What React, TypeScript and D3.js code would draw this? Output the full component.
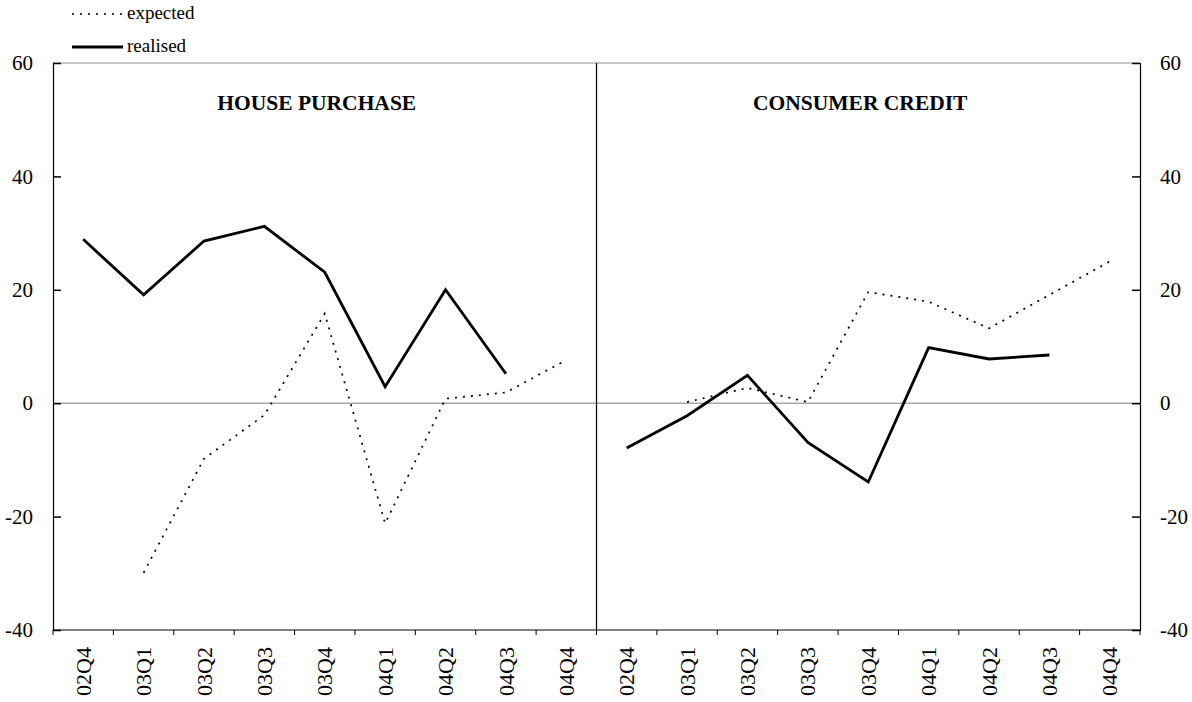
import React, { useEffect, useRef } from 'react'
import * as d3 from 'd3'

const quarters = ['02Q4', '03Q1', '03Q2', '03Q3', '03Q4', '04Q1', '04Q2', '04Q3', '04Q4']
const panelTitles = ['HOUSE PURCHASE', 'CONSUMER CREDIT']

const houseRealised = [28.9, 19.1, 28.6, 31.2, 23.1, 2.9, 20.0, 5.2, null]
const houseExpected = [null, -29.9, -9.8, -2.1, 15.8, -21.2, 0.8, 1.9, 7.6]
const creditRealised = [-7.9, -2.2, 4.9, -6.9, -13.9, 9.8, 7.8, 8.5, null]
const creditExpected = [null, 0.2, 2.7, 0.2, 19.6, 17.9, 13.2, 19.1, 25.0]

const yTicks = [-40, -20, 0, 20, 40, 60]

const W = 1192
const H = 702
const margin = { top: 63, right: 52, bottom: 72, left: 53 }
const FONT = '"Liberation Serif", "Times New Roman", serif'

type Val = number | null

const App: React.FC = () => {
    const svgRef = useRef<SVGSVGElement | null>(null)

    useEffect(() => {
        const svg = d3.select(svgRef.current)
        svg.selectAll('*').remove()

        const left = margin.left
        const right = W - margin.right
        const top = margin.top
        const bottom = H - margin.bottom

        // one band per quarter per panel, 18 in all
        const keys = panelTitles.flatMap((_, p) => quarters.map((q) => `${p}-${q}`))
        const x = d3.scaleBand<string>().domain(keys).range([left, right]).padding(0)
        const y = d3.scaleLinear().domain([-40, 60]).range([bottom, top])

        const g = svg.append('g').attr('font-family', FONT)

        // top border and zero line (grey)
        g.append('line')
            .attr('x1', left).attr('x2', right)
            .attr('y1', y(60)).attr('y2', y(60))
            .attr('stroke', '#b4b4b4').attr('stroke-width', 1.5)
        g.append('line')
            .attr('x1', left).attr('x2', right)
            .attr('y1', y(0)).attr('y2', y(0))
            .attr('stroke', '#a8a8a8').attr('stroke-width', 1.5)

        // divider between panels
        const mid = x(`1-${quarters[0]}`)!
        g.append('line')
            .attr('x1', mid).attr('x2', mid)
            .attr('y1', top).attr('y2', bottom)
            .attr('stroke', 'black').attr('stroke-width', 1.2)

        // Y axes, ticks pointing inward; plain hyphen for negatives
        const fmt = (d: d3.NumberValue) => String(d)
        const yLeft = g.append('g')
            .attr('transform', `translate(${left},0)`)
            .call(d3.axisLeft(y).tickValues(yTicks).tickSize(-8).tickPadding(20).tickFormat(fmt))
        const yRight = g.append('g')
            .attr('transform', `translate(${right},0)`)
            .call(d3.axisRight(y).tickValues(yTicks).tickSize(-8).tickPadding(20).tickFormat(fmt))
        for (const ax of [yLeft, yRight]) {
            ax.select('.domain').attr('stroke', 'black').attr('stroke-width', 1.2)
            ax.selectAll('.tick line').attr('stroke', 'black').attr('stroke-width', 1.5)
            ax.selectAll('.tick text')
                .attr('font-family', FONT)
                .attr('font-size', 21)
                .attr('fill', 'black')
        }

        // X axis line and boundary ticks
        g.append('line')
            .attr('x1', left).attr('x2', right)
            .attr('y1', bottom).attr('y2', bottom)
            .attr('stroke', 'black').attr('stroke-width', 1.2)
        const edges = keys.map((k) => x(k)!).concat([right])
        g.append('g')
            .selectAll('line')
            .data(edges)
            .join('line')
            .attr('x1', (d) => d).attr('x2', (d) => d)
            .attr('y1', bottom).attr('y2', bottom + 5)
            .attr('stroke', 'black').attr('stroke-width', 1)

        // rotated quarter labels
        g.append('g')
            .selectAll('text')
            .data(keys)
            .join('text')
            .attr('transform', (k) => `translate(${x(k)! + x.bandwidth() / 2 + 1},${bottom + 17}) rotate(-90)`)
            .attr('text-anchor', 'end')
            .attr('dy', '0.3em')
            .attr('font-size', 22)
            .text((k) => k.split('-')[1])

        // panel titles
        g.append('g')
            .selectAll('text')
            .data(panelTitles)
            .join('text')
            .attr('x', (_, p) => x(`${p}-${quarters[4]}`)! + x.bandwidth() / 2 - 8)
            .attr('y', 110)
            .attr('text-anchor', 'middle')
            .attr('font-size', 21.5)
            .attr('font-weight', 'bold')
            .text((d) => d)

        const series: { panel: number; values: Val[]; dashed: boolean }[] = [
            { panel: 0, values: houseExpected, dashed: true },
            { panel: 0, values: houseRealised, dashed: false },
            { panel: 1, values: creditExpected, dashed: true },
            { panel: 1, values: creditRealised, dashed: false },
        ]

        for (const s of series) {
            const pts = s.values.map((v, i) => ({ key: `${s.panel}-${quarters[i]}`, v }))
            const line = d3
                .line<{ key: string; v: Val }>()
                .defined((d) => d.v != null)
                .x((d) => x(d.key)! + x.bandwidth() / 2)
                .y((d) => y(d.v as number))
            g.append('path')
                .attr('d', line(pts))
                .attr('fill', 'none')
                .attr('stroke', 'black')
                .attr('stroke-width', s.dashed ? 1.7 : 2.8)
                .attr('stroke-dasharray', s.dashed ? '2,6' : null)
                .attr('stroke-linejoin', 'miter')
        }

        // legend
        const legend = g.append('g')
        const items = [
            { label: 'expected', dashed: true, y: 14 },
            { label: 'realised', dashed: false, y: 47 },
        ]
        for (const it of items) {
            legend.append('line')
                .attr('x1', 72).attr('x2', 123)
                .attr('y1', it.y).attr('y2', it.y)
                .attr('stroke', 'black')
                .attr('stroke-width', it.dashed ? 1.7 : 2.8)
                .attr('stroke-dasharray', it.dashed ? '2,6' : null)
            legend.append('text')
                .attr('x', 127)
                .attr('y', it.y + 5)
                .attr('font-size', 19)
                .text(it.label)
        }
    }, [])

    return (
        <div style={{ position: 'absolute', left: 0, top: 0 }}>
            <svg ref={svgRef} width={W} height={H} style={{ display: 'block', background: 'white' }} />
        </div>
    )
}

export default App
